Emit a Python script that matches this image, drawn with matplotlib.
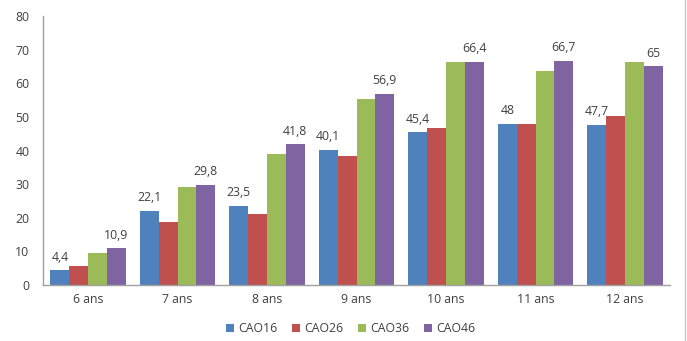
import matplotlib
matplotlib.use("Agg")
import matplotlib.pyplot as plt
import numpy as np

categories = ["6 ans", "7 ans", "8 ans", "9 ans", "10 ans", "11 ans", "12 ans"]
series_names = ["CAO16", "CAO26", "CAO36", "CAO46"]
cao16 = [4.4, 22.1, 23.5, 40.1, 45.4, 48.0, 47.7]
cao26 = [5.7, 18.7, 21.0, 38.5, 46.7, 48.0, 50.3]
cao36 = [9.4, 29.1, 39.1, 55.3, 66.4, 63.6, 66.4]
cao46 = [10.9, 29.8, 41.8, 56.9, 66.4, 66.7, 65.0]
labels16 = ["4,4", "22,1", "23,5", "40,1", "45,4", "48", "47,7"]
labels46 = ["10,9", "29,8", "41,8", "56,9", "66,4", "66,7", "65"]

colors = ["#4F81BD", "#C0504D", "#9BBB59", "#8064A2"]

plt.rcParams['font.family'] = ['Open Sans', 'DejaVu Sans']

fig = plt.figure(figsize=(6.87, 3.41), dpi=100)
ax = fig.add_axes([0.063, 0.164, 0.912, 0.789])

x = np.arange(len(categories))
w = 0.21
data = [cao16, cao26, cao36, cao46]
bars = []
for i, (vals, c, n) in enumerate(zip(data, colors, series_names)):
    b = ax.bar(x + (i - 1.5) * w, vals, w, color=c, label=n, linewidth=0)
    bars.append(b)

tc = "#404040"
fs = 8.8
for rect, lab in zip(bars[0], labels16):
    ax.text(rect.get_x() + rect.get_width() / 2, rect.get_height() + 2.0, lab,
            ha="center", va="bottom", fontsize=fs, color=tc)
for rect, lab in zip(bars[3], labels46):
    ax.text(rect.get_x() + rect.get_width() / 2, rect.get_height() + 2.0, lab,
            ha="center", va="bottom", fontsize=fs, color=tc)

ax.set_xlim(-0.5, len(categories) - 0.5)
ax.set_ylim(0, 80)
ax.set_yticks(range(0, 81, 10))
ax.set_xticks(x)
ax.set_xticklabels(categories)
ax.tick_params(axis="both", labelsize=fs, colors=tc, length=0)
ax.tick_params(axis="y", pad=10)
ax.tick_params(axis="x", pad=6)
for s in ["top", "right"]:
    ax.spines[s].set_visible(False)
for s in ["left", "bottom"]:
    ax.spines[s].set_color("#A0A0A0")
    ax.spines[s].set_linewidth(1.0)

fig.legend(loc="lower center", bbox_to_anchor=(0.51, -0.015), ncol=4, frameon=False,
           fontsize=fs, handlelength=0.7, handleheight=0.7, handletextpad=0.3,
           columnspacing=1.2, labelcolor=tc)

fig.add_artist(plt.Line2D([0.997, 0.997], [0, 1], color="#C8C8C8", linewidth=1,
                          transform=fig.transFigure))

fig.savefig("out.png", dpi=100)
